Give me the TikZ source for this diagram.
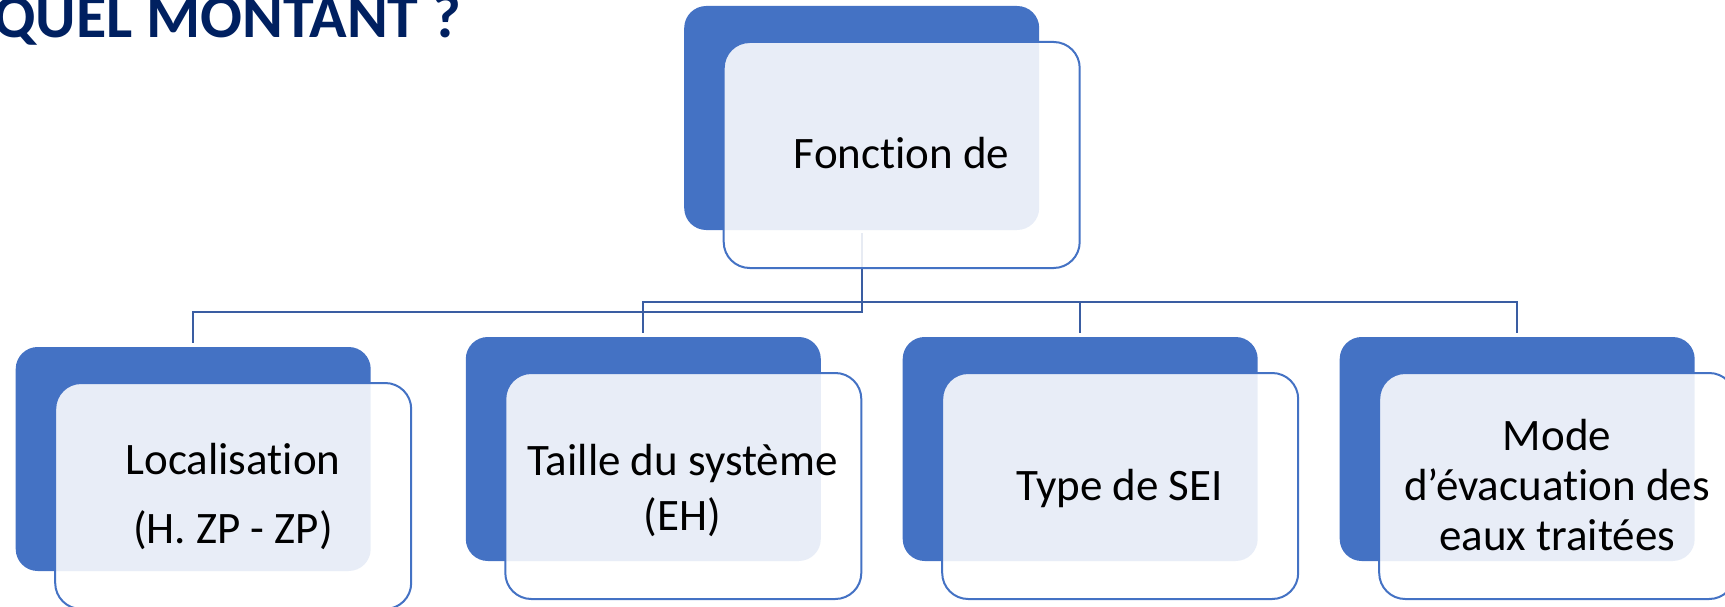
\documentclass[tikz,border=0pt]{standalone}
\usepackage{fontspec}
\setmainfont{Carlito}[Ligatures={NoCommon}]
\definecolor{sablue}{HTML}{4472C4}
\definecolor{linkblue}{HTML}{3A5DA2}
\definecolor{titleblue}{HTML}{002060}
\begin{document}
\begin{tikzpicture}[x=1pt,y=-1pt,
  back/.style={draw=none,fill=sablue,rounded corners=22pt,minimum width=355pt,minimum height=224pt,inner sep=0pt},
  front/.style={draw=sablue,line width=2pt,fill=white,fill opacity=0.88,text opacity=1,rounded corners=26pt,minimum width=356pt,minimum height=226pt,inner sep=0pt,align=center,xshift=40pt,yshift=-37pt},
  conn/.style={draw=linkblue,line width=2.2pt},
  txt/.style={font=\fontsize{45}{53}\selectfont,align=center,inner sep=0pt}]
\useasboundingbox (0,0) rectangle (1725,607);
% title
\node[anchor=base west,inner sep=0pt,text=titleblue,font=\fontsize{62}{72}\selectfont\bfseries] (title) at (-7,38) {QUEL MONTANT ?};
% back boxes
\node[back] (topb) at (861.7,118) {};
\node[back] (locb) at (193.2,459) {};
\node[back] (taib) at (643.3,449) {};
\node[back] (typb) at (1080.2,449) {};
\node[back] (modb) at (1517.2,449) {};
% bus coordinates
\coordinate (busA) at (0,302);
\coordinate (busB) at (0,312);
% connectors
\draw[conn,shorten <=3pt,shorten >=4pt] (topb.south) -- (topb.south |- busB) -| (locb.north);
\draw[conn,shorten <=3pt,shorten >=4pt] (topb.south) -- (topb.south |- busA) -| (taib.north);
\draw[conn,shorten >=4pt] (topb.south |- busA) -| (typb.north);
\draw[conn,shorten >=4pt] (topb.south |- busA) -| (modb.north);
% front boxes
\node[front] (topf) at (topb) {};
\node[front] (locf) at (locb) {};
\node[front] (taif) at (taib) {};
\node[front] (typf) at (typb) {};
\node[front] (modf) at (modb) {};
% texts
\node[txt,anchor=base] (topt) at (901.7,168) {Fonction de};
\node[txt,anchor=base] (loct1) at (233,474) {Localisation};
\node[txt,anchor=base] (loct2) at (233,543) {(H. ZP - ZP)};
\node[txt,anchor=base] (tait1) at (682.5,475) {Taille du système};
\node[txt,anchor=base] (tait2) at (682.5,530) {(EH)};
\node[txt,anchor=base] (typt) at (1119.5,500) {Type de SEI};
\node[txt,anchor=base] (modt1) at (1557,450) {Mode};
\node[txt,anchor=base] (modt2) at (1557,500) {d’évacuation des};
\node[txt,anchor=base] (modt3) at (1557,550) {eaux traitées};
\end{tikzpicture}
\end{document}
